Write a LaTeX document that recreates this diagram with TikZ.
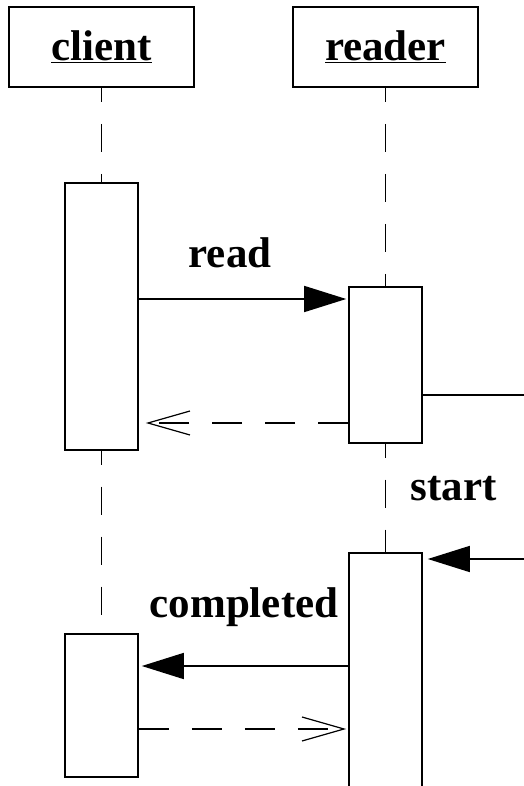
\documentclass[tikz,border=0pt]{standalone}
\usepackage{fontspec}
\setmainfont{Liberation Serif}
\usetikzlibrary{arrows.meta,positioning}

\begin{document}
\begin{tikzpicture}[
  x=1pt, y=-1pt,
  line width=1.6pt,
  every node/.style={font=\fontsize{43}{50}\selectfont\bfseries},
  header/.style={draw, minimum width=185pt, minimum height=80pt, inner sep=0pt},
  act/.style={draw, fill=white, minimum width=73pt, inner sep=0pt, anchor=north},
  lifeline/.style={dash pattern=on 28pt off 22pt, dash phase=14pt},
  call/.style={-{Triangle[length=42pt,width=26pt]}},
  reply/.style={dash pattern=on 30pt off 23pt,
    -{Straight Barb[length=42pt,width=24pt,line width=1.2pt]}}
]
  \useasboundingbox (0,0) rectangle (523,786);

  % Message heights
  \coordinate (mRead)  at (0,299);
  \coordinate (mOut)   at (0,395);
  \coordinate (mBack)  at (0,423);
  \coordinate (mStart) at (0,559);
  \coordinate (mDone)  at (0,666);
  \coordinate (mBack2) at (0,729);
  \coordinate (edgeOut)   at (530,395);
  \coordinate (edgeStart) at (530,559);

  % Objects
  \node[header] (client) at (101.5,47) {\underline{client}};
  \node[header] (reader) at (385.5,47) {\underline{reader}};

  % Activations
  \node[act, minimum height=267pt] (cl1) at (101.5,182) {};
  \node[act, minimum height=156pt] (rd1) at (385.5,286) {};
  \node[act, minimum height=260pt] (rd2) at (385.5,552) {};
  \node[act, minimum height=143pt] (cl2) at (101.5,633) {};

  % Lifelines
  \draw[lifeline] (client) -- (cl1);
  \draw[lifeline] (cl1) -- (cl2);
  \draw[lifeline] (reader) -- (rd1);
  \draw[lifeline] (rd1) -- (rd2);

  % Messages
  \draw[call, shorten >=2pt] (cl1.east |- mRead) -- (rd1.west |- mRead);
  \draw[reply, shorten >=7pt] (rd1.west |- mBack) -- (cl1.east |- mBack);
  \draw (rd1.east |- mOut) -- (edgeOut);
  \draw[call, shorten >=5pt] (edgeStart) -- (rd2.east |- mStart);
  \draw[call, shorten >=3pt] (rd2.west |- mDone) -- (cl2.east |- mDone);
  \draw[reply, shorten >=2pt] (cl2.east |- mBack2) -- (rd2.west |- mBack2);

  % Labels
  \node[anchor=base] (lblRead)  at (230,267) {read};
  \node[anchor=base] (lblStart) at (453.5,500) {start};
  \node[anchor=base] (lblDone)  at (244,617) {completed};
\end{tikzpicture}
\end{document}
